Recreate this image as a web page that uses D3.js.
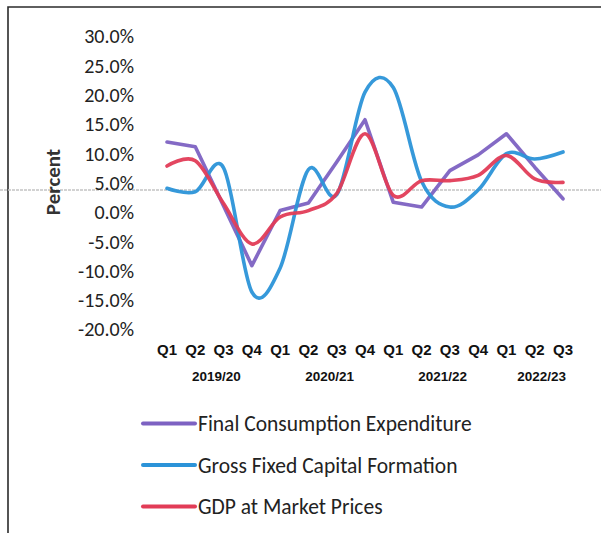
<!DOCTYPE html>
<html>
    <head>
        <meta charset="UTF-8">
        <script src="https://d3js.org/d3.v7.min.js"></script>
        <style>
            body { margin: 0; background: #fff; }
        </style>
    </head>

    <body>

        <svg id="canvas"></svg>

        <script>

            width = 601;
            height = 533;

            quarters = ["Q1","Q2","Q3","Q4","Q1","Q2","Q3","Q4","Q1","Q2","Q3","Q4","Q1","Q2","Q3"];
            years = ["2019/20","2020/21","2021/22","2022/23"];
            yearSpans = [4, 4, 4, 3];
            yTicks = [-20, -15, -10, -5, 0, 5, 10, 15, 20, 25, 30];

            fce  = [12.0, 11.2, 1.1, -9.1, 0.3, 1.6, 8.6, 15.8, 1.7, 0.9, 7.1, 9.8, 13.4, 7.7, 2.3];
            gfcf = [4.1, 3.5, 7.6, -13.6, -9.5, 7.3, 3.0, 20.5, 21.3, 5.3, 0.9, 3.8, 10.0, 9.1, 10.3];
            gdp  = [7.9, 8.8, 1.5, -5.4, -0.8, 0.3, 3.2, 13.4, 2.9, 5.4, 5.4, 6.3, 9.7, 5.7, 5.1];

            seriesNames = ["Final Consumption Expenditure", "Gross Fixed Capital Formation", "GDP at Market Prices"];
            seriesValues = [fce, gfcf, gdp];
            colors = ["#7d62c2", "#2b93d8", "#e23c57"];
            smooth = [false, true, true];

            canvas = d3.select("#canvas")
                .attr("width", width)
                .attr("height", height);

            canvas.append("rect")
                .attr("width", width).attr("height", height)
                .attr("fill", "#fff");

            // frame (scanned: only top and left edges show)
            canvas.append("path")
                .attr("d", "M8,533 V7 H601")
                .attr("fill", "none")
                .attr("stroke", "#2b2b2b")
                .attr("stroke-width", 1.6);

            x = d3.scalePoint()
                .domain(d3.range(quarters.length))
                .range([167, 563]);

            y = d3.scaleLinear()
                .domain([-20, 30])
                .range([329.5, 36.5]);

            // faint scan streak across the page
            canvas.append("line")
                .attr("x1", 0).attr("x2", width)
                .attr("y1", 190).attr("y2", 190)
                .attr("stroke", "#c4c4c4")
                .attr("stroke-width", 1.4)
                .attr("stroke-dasharray", "3,1");

            yAxis = d3.axisLeft(y)
                .tickValues(yTicks)
                .tickSize(0)
                .tickPadding(0)
                .tickFormat((d) => d.toFixed(1) + "%");

            gy = canvas.append("g")
                .attr("transform", "translate(134,0)")
                .call(yAxis);
            gy.select(".domain").remove();
            gy.selectAll("text")
                .attr("font-family", "Carlito, Calibri, Lato, sans-serif")
                .attr("font-size", 20)
                .attr("fill", "#222");

            canvas.append("text")
                .attr("transform", "translate(60,182) rotate(-90)")
                .attr("text-anchor", "middle")
                .attr("font-family", "Carlito, Calibri, Lato, sans-serif")
                .attr("font-size", 21)
                .attr("font-weight", "bold")
                .attr("fill", "#333")
                .text("Percent");

            canvas.selectAll(".q")
                .data(quarters)
                .enter().append("text")
                    .attr("class", "q")
                    .attr("x", (d, i) => x(i))
                    .attr("y", 355)
                    .attr("text-anchor", "middle")
                    .attr("font-family", "Liberation Sans, Arial, sans-serif")
                    .attr("font-size", 15)
                    .attr("font-weight", "bold")
                    .attr("fill", "#111")
                    .text((d) => d);

            start = 0;
            yearPos = yearSpans.map((n) => {
                var p = (x(start) + x(start + n - 1)) / 2;
                start += n;
                return p;
            });

            canvas.selectAll(".yr")
                .data(years)
                .enter().append("text")
                    .attr("class", "yr")
                    .attr("x", (d, i) => yearPos[i] + 7)
                    .attr("y", 381)
                    .attr("text-anchor", "middle")
                    .attr("font-family", "Liberation Sans, Arial, sans-serif")
                    .attr("font-size", 13.5)
                    .attr("font-weight", "bold")
                    .attr("fill", "#111")
                    .text((d) => d);

            seriesValues.forEach((vals, k) => {
                var line = d3.line()
                    .x((d, i) => x(i))
                    .y((d) => y(d))
                    .curve(smooth[k] ? d3.curveCardinal.tension(0) : d3.curveLinear);
                canvas.append("path")
                    .datum(vals)
                    .attr("d", line)
                    .attr("fill", "none")
                    .attr("stroke", colors[k])
                    .attr("stroke-width", 3.6)
                    .attr("stroke-linejoin", "round")
                    .attr("stroke-linecap", "round")
                    .attr("opacity", 0.95);
            });

            legend = canvas.selectAll(".lg")
                .data(seriesNames)
                .enter().append("g")
                    .attr("class", "lg")
                    .attr("transform", (d, i) => "translate(143," + (423.5 + i * 41.5) + ")");

            legend.append("line")
                .attr("x1", 0).attr("x2", 52)
                .attr("stroke", (d, i) => colors[i])
                .attr("stroke-width", 4)
                .attr("stroke-linecap", "round");

            legend.append("text")
                .attr("x", 55)
                .attr("dy", "0.35em")
                .attr("font-family", "Carlito, Calibri, Lato, sans-serif")
                .attr("font-size", 21.5)
                .attr("fill", "#222")
                .text((d) => d);

        </script>

    </body>

</html>
